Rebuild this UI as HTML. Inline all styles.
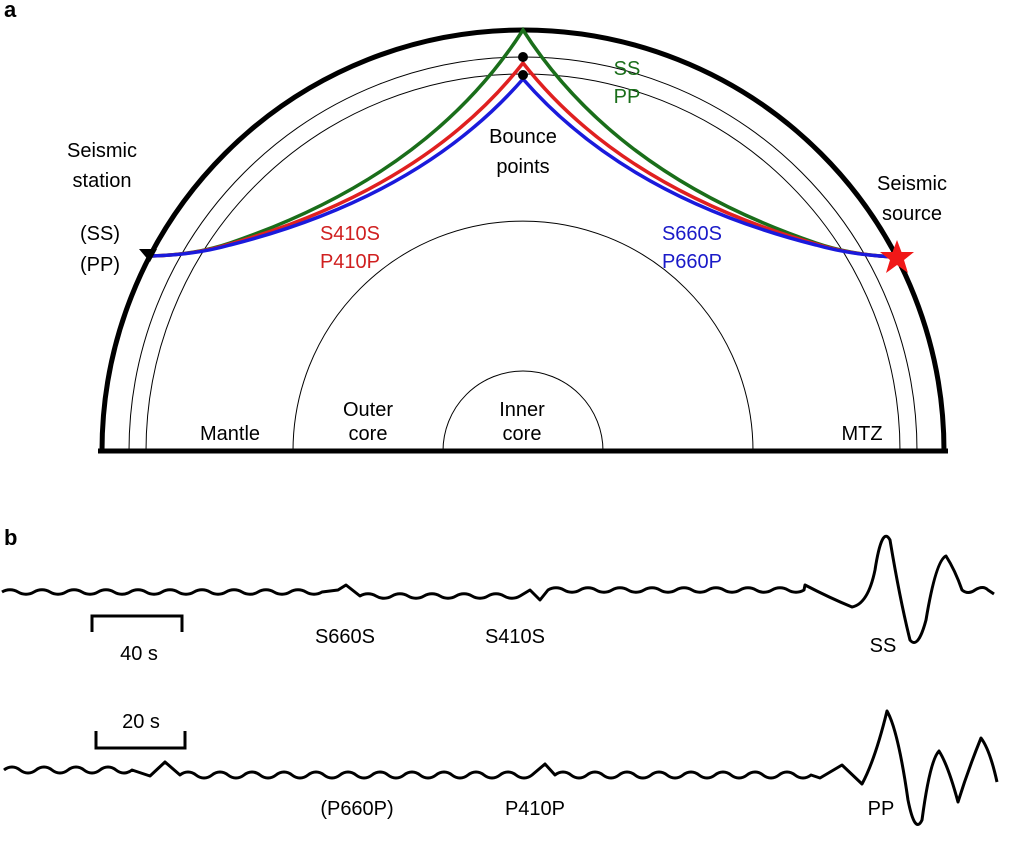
<!DOCTYPE html>
<html><head><meta charset="utf-8"><style>
body{margin:0;background:#fff;}
svg{display:block;font-family:"Liberation Sans",sans-serif;}
</style></head><body>
<svg width="1024" height="861" viewBox="0 0 1024 861" xmlns="http://www.w3.org/2000/svg">
<text x="4" y="17" font-size="22" font-weight="bold">a</text>
<text x="4" y="545" font-size="22" font-weight="bold">b</text>
<g fill="none" stroke="#000">
<path d="M102,451 A421,421 0 0 1 944,451" stroke-width="5"/>
<path d="M129,451 A394,394 0 0 1 917,451" stroke-width="1"/>
<path d="M146,451 A377,377 0 0 1 900,451" stroke-width="1"/>
<path d="M293,451 A230,230 0 0 1 753,451" stroke-width="1"/>
<path d="M443,451 A80,80 0 0 1 603,451" stroke-width="1"/>
<line x1="98" y1="451" x2="948" y2="451" stroke-width="5"/>
</g>
<g fill="none" stroke-width="3.5">
<path d="M150,256 Q195,255 230,243 Q430,175 523,30 Q616,175 816,243 Q851,255 896,257" stroke="#1a6e1a"/>
<path d="M150,256 Q195,255 230,244 Q425,188 523,63 Q621,188 816,244 Q851,255 896,257" stroke="#e02020"/>
<path d="M150,256 Q195,255 230,245 Q420,197 523,79 Q626,197 816,245 Q851,255 896,257" stroke="#1a1adc"/>
</g>
<circle cx="523" cy="57" r="5" fill="#000"/>
<circle cx="523" cy="75" r="5" fill="#000"/>
<polygon points="139,249 157,249 150,262" fill="#000"/>
<polygon points="897,240 901.5,252 914,252 904,260 908,273 897,265 886,273 890,260 880,252 892.5,252" fill="#f01818"/>
<g font-size="20" text-anchor="middle">
<text x="102" y="157">Seismic</text>
<text x="102" y="187">station</text>
<text x="100" y="240">(SS)</text>
<text x="100" y="271">(PP)</text>
<text x="912" y="190">Seismic</text>
<text x="912" y="220">source</text>
<text x="523" y="143">Bounce</text>
<text x="523" y="173">points</text>
<text x="627" y="75" fill="#1a6e1a">SS</text>
<text x="627" y="103" fill="#1a6e1a">PP</text>
<text x="350" y="240" fill="#d02020">S410S</text>
<text x="350" y="268" fill="#d02020">P410P</text>
<text x="692" y="240" fill="#1a1ac8">S660S</text>
<text x="692" y="268" fill="#1a1ac8">P660P</text>
<text x="230" y="440">Mantle</text>
<text x="368" y="416">Outer</text>
<text x="368" y="440">core</text>
<text x="522" y="416">Inner</text>
<text x="522" y="440">core</text>
<text x="862" y="440">MTZ</text>
<text x="139" y="660">40 s</text>
<text x="141" y="728">20 s</text>
<text x="345" y="643">S660S</text>
<text x="515" y="643">S410S</text>
<text x="883" y="652">SS</text>
<text x="357" y="815">(P660P)</text>
<text x="535" y="815">P410P</text>
<text x="881" y="815">PP</text>
</g>
<g fill="none" stroke="#000" stroke-width="3">
<path d="M92,632 V616 H182 V632"/>
<path d="M96,731 V748 H185 V731"/>
</g>
<g fill="none" stroke="#000" stroke-width="3" stroke-linejoin="round">
<path d="M2,592 c5,-3 11,-3 16,0 c5,3 11,3 16,0 c5,-3 11,-3 16,0 c5,3 11,3 16,0 c5,-3 11,-3 16,0 c5,3 11,3 16,0 c5,-3 11,-3 16,0 c5,3 11,3 16,0 c5,-3 11,-3 16,0 c5,3 11,3 16,0 c5,-3 11,-3 16,0 c5,3 11,3 16,0 c5,-3 11,-3 16,0 c5,3 11,3 16,0 c5,-3 11,-3 16,0 c5,3 11,3 16,0 c5,-3 11,-3 16,0 c5,3 11,3 16,0 c5,-3 11,-3 16,0 c5,3 11,3 16,0 L338,590 L346,585 L360,596 c5,-3 11,-3 16,0 c5,3 11,3 16,0 c5,-3 11,-3 16,0 c5,3 11,3 16,0 c5,-3 11,-3 16,0 c5,3 11,3 16,0 c5,-3 11,-3 16,0 c5,3 11,3 16,0 c5,-3 11,-3 16,0 c5,3 11,3 16,0 L530,590 L540,600 L548,590 c5,-3 11,-3 16,0 c5,3 11,3 16,0 c5,-3 11,-3 16,0 c5,3 11,3 16,0 c5,-3 11,-3 16,0 c5,3 11,3 16,0 c5,-3 11,-3 16,0 c5,3 11,3 16,0 c5,-3 11,-3 16,0 c5,3 11,3 16,0 c5,-3 11,-3 16,0 c5,3 11,3 16,0 c5,-3 11,-3 16,0 c5,3 11,3 16,0 c5,-3 11,-3 16,0 c5,3 11,3 16,0 L805,585 Q830,598 852,607 Q868,604 875,570 Q882,525 890,540 Q900,600 910,640 Q918,650 926,620 Q936,560 946,556 Q955,570 962,590 Q968,595 975,590 Q983,585 988,590 L994,594"/>
<path d="M4,770 c5,-4 11,-4 16,0 c5,4 11,4 16,0 c5,-4 11,-4 16,0 c5,4 11,4 16,0 c5,-4 11,-4 16,0 c5,4 11,4 16,0 c5,-4 11,-4 16,0 c5,4 11,4 16,0 L150,776 L165,762 L180,775 c5,-4 11,-4 16,0 c5,4 11,4 16,0 c5,-4 11,-4 16,0 c5,4 11,4 16,0 c5,-4 11,-4 16,0 c5,4 11,4 16,0 c5,-4 11,-4 16,0 c5,4 11,4 16,0 c5,-4 11,-4 16,0 c5,4 11,4 16,0 c5,-4 11,-4 16,0 c5,4 11,4 16,0 c5,-4 11,-4 16,0 c5,4 11,4 16,0 c5,-4 11,-4 16,0 c5,4 11,4 16,0 c5,-4 11,-4 16,0 c5,4 11,4 16,0 c5,-4 11,-4 16,0 c5,4 11,4 16,0 c5,-4 11,-4 16,0 c5,4 11,4 16,0 L545,764 L555,775 c5,-4 11,-4 16,0 c5,4 11,4 16,0 c5,-4 11,-4 16,0 c5,4 11,4 16,0 c5,-4 11,-4 16,0 c5,4 11,4 16,0 c5,-4 11,-4 16,0 c5,4 11,4 16,0 c5,-4 11,-4 16,0 c5,4 11,4 16,0 c5,-4 11,-4 16,0 c5,4 11,4 16,0 c5,-4 11,-4 16,0 c5,4 11,4 16,0 c5,-4 11,-4 16,0 c5,4 11,4 16,0 L820,778 L842,765 L862,784 Q875,760 887,711 Q898,730 908,800 Q915,835 922,820 Q930,760 939,751 Q948,765 958,802 Q968,770 981,738 Q990,750 997,782"/>
</g>
</svg>
</body></html>
